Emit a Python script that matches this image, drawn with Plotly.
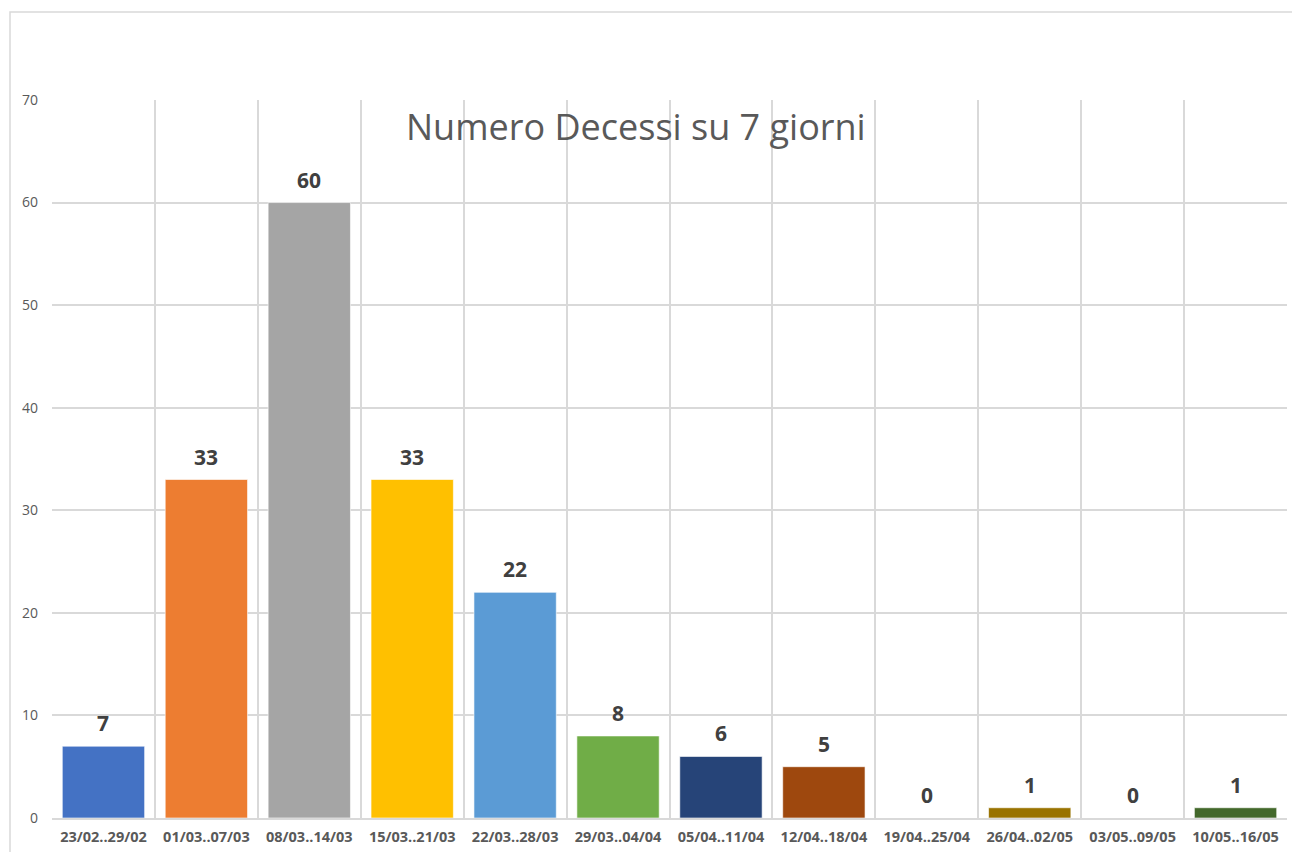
import plotly.graph_objects as go

categories = ["23/02..29/02", "01/03..07/03", "08/03..14/03", "15/03..21/03",
              "22/03..28/03", "29/03..04/04", "05/04..11/04", "12/04..18/04",
              "19/04..25/04", "26/04..02/05", "03/05..09/05", "10/05..16/05"]
values = [7, 33, 60, 33, 22, 8, 6, 5, 0, 1, 0, 1]
colors = ["#4472C4", "#ED7D31", "#A5A5A5", "#FFC000", "#5B9BD5", "#70AD47",
          "#264478", "#9E480E", "#636363", "#997300", "#255E91", "#43682B"]
title_text = "Numero Decessi su 7 giorni"

W, H = 1292, 852
L, R, T, B = 52, 5, 100, 34
pw, ph = W - L - R, H - T - B

fig = go.Figure()
fig.add_trace(go.Bar(x=categories, y=values,
                     marker=dict(color=colors, line=dict(width=1, color="rgba(255,255,255,0.6)")),
                     showlegend=False, hoverinfo="x+y"))

for c, v in zip(categories, values):
    fig.add_annotation(x=c, y=v, text=str(v), showarrow=False, yanchor="bottom",
                       yshift=7, font=dict(family="Open Sans", size=21, color="#404040",
                                           weight="bold"))

fig.add_annotation(xref="paper", yref="paper", x=(636 - L) / pw, y=1 - (127 - T) / ph,
                   text=title_text, showarrow=False, xanchor="center", yanchor="middle",
                   font=dict(family="Open Sans", size=36, color="#595959"))

# outer chart area border
fig.add_shape(type="rect", xref="paper", yref="paper",
              x0=(10 - L) / pw, x1=(1300 - L) / pw,
              y0=-(60) / ph, y1=1 + (T - 12) / ph,
              line=dict(color="#D9D9D9", width=1.5), layer="below")

fig.update_layout(
    width=W, height=H,
    margin=dict(l=L, r=R, t=T, b=B),
    plot_bgcolor="white", paper_bgcolor="white",
    bargap=0.2,
    font=dict(family="Open Sans", color="#595959"),
    xaxis=dict(type="category", tickson="boundaries", showgrid=True,
               gridcolor="#D9D9D9", gridwidth=1.5, showline=True, linecolor="#D9D9D9",
               linewidth=1.5, ticks="", mirror=False,
               tickfont=dict(family="Open Sans", size=14.5, color="#595959", weight="bold"),
               ticklabelstandoff=5),
    yaxis=dict(range=[0, 70], dtick=10, showgrid=True, gridcolor="#D9D9D9", gridwidth=1.5,
               zeroline=False, showline=False, ticks="",
               tickfont=dict(family="Open Sans", size=14, color="#595959"),
               ticklabelstandoff=13),
)

fig.write_html("out.html")
